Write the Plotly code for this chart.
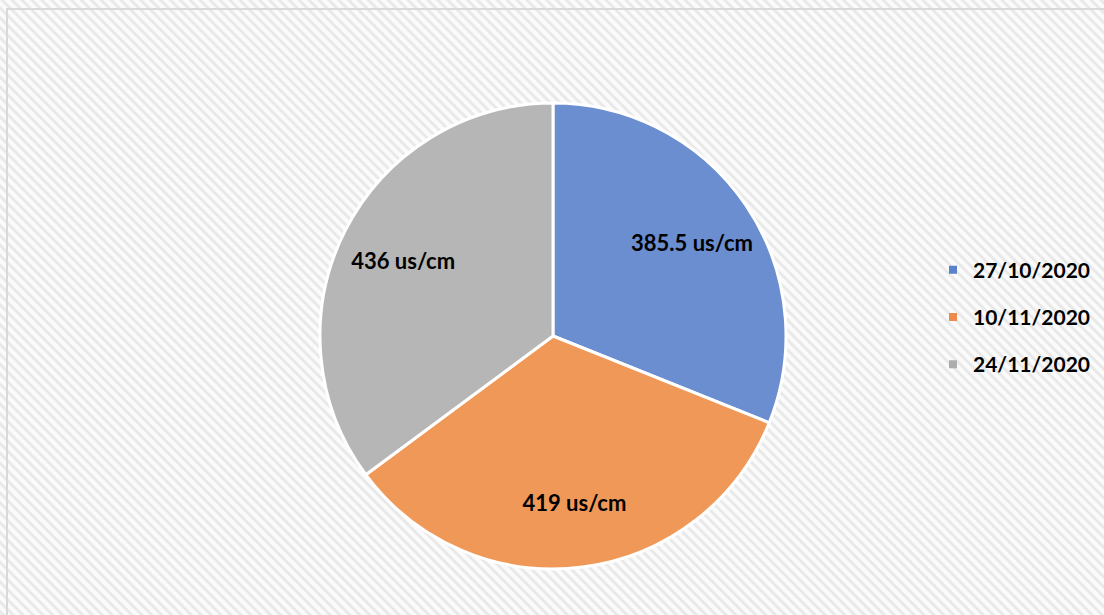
import base64
import plotly.graph_objects as go

labels = ["27/10/2020", "10/11/2020", "24/11/2020"]
values = [385.5, 419, 436]
text_labels = ["385.5 us/cm", "419 us/cm", "436 us/cm"]
slice_colors = ["#6A8ED0", "#F09858", "#B6B6B6"]
legend_colors = ["#5B80CC", "#EE8A4A", "#ADADAD"]

W, H = 1104, 615

svg = (
    f'<svg xmlns="http://www.w3.org/2000/svg" width="{W}" height="{H}">'
    '<defs><pattern id="p" width="7" height="7" patternUnits="userSpaceOnUse" '
    'patternTransform="rotate(-45)">'
    '<rect width="7" height="7" fill="#FBFBFB"/><rect width="3" height="7" fill="#E9E9E9"/>'
    '</pattern></defs>'
    f'<rect width="{W}" height="{H}" fill="url(#p)"/></svg>'
)
src = "data:image/svg+xml;base64," + base64.b64encode(svg.encode()).decode()

fig = go.Figure()

cx, cy, r = 553, 336, 233
dom = dict(x=[(cx - r) / W, (cx + r) / W], y=[1 - (cy + r) / H, 1 - (cy - r) / H])

# main pie (colours, no text)
fig.add_trace(go.Pie(
    labels=labels,
    values=values,
    textinfo="none",
    marker=dict(colors=slice_colors, line=dict(color="white", width=3)),
    sort=False,
    direction="clockwise",
    rotation=0,
    showlegend=False,
    domain=dom,
))

# transparent ring carrying the data labels further out
fig.add_trace(go.Pie(
    labels=labels,
    values=values,
    text=text_labels,
    textinfo="text",
    textposition="inside",
    insidetextorientation="horizontal",
    textfont=dict(family="Lato", size=22, color="black", weight="bold"),
    marker=dict(colors=["rgba(0,0,0,0)"] * 3, line=dict(width=0)),
    hole=0.44,
    sort=False,
    direction="clockwise",
    rotation=0,
    showlegend=False,
    hoverinfo="skip",
    domain=dom,
))

for i, (lab, col) in enumerate(zip(labels, legend_colors)):
    fig.add_trace(go.Scatter(
        x=[None], y=[None], mode="markers", name=lab,
        marker=dict(symbol="square", size=8, color=col),
        legendgroup=f"g{i}", showlegend=True,
    ))

fig.update_layout(
    width=W, height=H,
    margin=dict(l=0, r=0, t=0, b=0),
    paper_bgcolor="white",
    plot_bgcolor="rgba(0,0,0,0)",
    xaxis=dict(visible=False, range=[0, 1]),
    yaxis=dict(visible=False, range=[0, 1]),
    images=[dict(source=src, xref="paper", yref="paper", x=0, y=1, sizex=1, sizey=1,
                 xanchor="left", yanchor="top", sizing="stretch", layer="below")],
    shapes=[dict(type="rect", xref="paper", yref="paper",
                 x0=7 / W, y0=1 - 9 / H, x1=1.02, y1=-0.02,
                 line=dict(color="#D9D9D9", width=2), fillcolor="rgba(0,0,0,0)", layer="below")],
    legend=dict(
        x=933 / W, y=1 - 317 / H, xanchor="left", yanchor="middle",
        font=dict(family="Lato", size=21, color="black", weight="bold"),
        bgcolor="rgba(0,0,0,0)", itemwidth=30, tracegroupgap=17,
        itemsizing="trace",
    ),
)

fig.write_html("out.html", config={"displayModeBar": False},
               post_script="document.body.style.margin='0';")
